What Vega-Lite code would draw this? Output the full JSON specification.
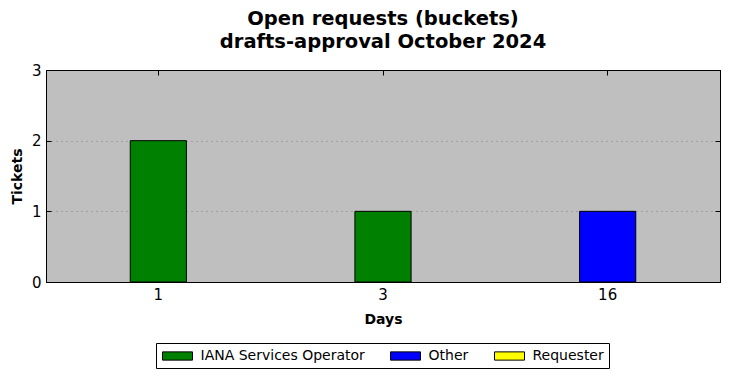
{
  "$schema": "https://vega.github.io/schema/vega-lite/v6.json",
  "autosize": "none",
  "width": 674,
  "height": 212,
  "padding": {"left": 46, "top": 70, "right": 10, "bottom": 96},
  "background": "white",
  "title": {
    "text": ["Open requests (buckets)", "drafts-approval October 2024"],
    "font": "DejaVu Sans",
    "fontSize": 19.5,
    "fontWeight": "bold",
    "color": "black",
    "anchor": "middle",
    "frame": "group",
    "offset": 11,
    "lineHeight": 22.5
  },
  "config": {
    "view": {"fill": "#bfbfbf", "stroke": "black", "strokeWidth": 1},
    "axis": {
      "labelFont": "DejaVu Sans",
      "labelFontSize": 15,
      "labelColor": "black",
      "titleFont": "DejaVu Sans",
      "titleFontSize": 14,
      "titleFontWeight": "bold",
      "titleColor": "black",
      "domainColor": "black",
      "tickColor": "black",
      "tickSize": -5,
      "labelPadding": 10
    },
    "legend": {
      "labelFont": "DejaVu Sans",
      "labelFontSize": 14,
      "labelColor": "black",
      "labelLimit": 0
    }
  },
  "data": {
    "values": [
      {"days": "1", "owner": "IANA Services Operator", "tickets": 2},
      {"days": "3", "owner": "IANA Services Operator", "tickets": 1},
      {"days": "16", "owner": "Other", "tickets": 1}
    ]
  },
  "layer": [
    {
      "mark": {"type": "bar", "stroke": "black", "strokeWidth": 1, "width": {"band": 0.25}},
      "encoding": {
        "x": {
          "field": "days",
          "type": "nominal",
          "sort": ["1", "3", "16"],
          "scale": {"domain": ["1", "3", "16"], "paddingInner": 0, "paddingOuter": 0},
          "axis": {"title": "Days", "orient": "bottom", "labelAngle": 0, "titlePadding": 10}
        },
        "y": {
          "field": "tickets",
          "type": "quantitative",
          "scale": {"domain": [0, 3], "nice": false},
          "axis": {
            "title": "Tickets",
            "orient": "left",
            "values": [0, 1, 2, 3],
            "grid": true,
            "gridColor": "#808080",
            "gridDash": [1, 4],
            "gridWidth": 1,
            "labelPadding": 10,
            "titlePadding": 7
          }
        },
        "color": {
          "field": "owner",
          "type": "nominal",
          "scale": {
            "domain": ["IANA Services Operator", "Other", "Requester"],
            "range": ["#008000", "#0000ff", "#ffff00"]
          },
          "legend": {
            "title": null,
            "orient": "none",
            "direction": "horizontal",
            "columns": 3,
            "legendX": 110,
            "legendY": 273,
            "strokeColor": "black",
            "fillColor": "white",
            "padding": 5,
            "columnPadding": 23,
            "labelOffset": 15,
            "symbolOffset": 8.5,
            "symbolType": "M-2,-0.55H2V0.55H-2Z",
            "symbolSize": 225,
            "symbolStrokeColor": "black",
            "symbolStrokeWidth": 1,
            "symbolOpacity": 1
          }
        }
      }
    },
    {
      "mark": {"type": "bar", "opacity": 0, "width": {"band": 0.25}},
      "encoding": {
        "x": {
          "field": "days",
          "type": "nominal",
          "sort": ["1", "3", "16"],
          "scale": {"domain": ["1", "3", "16"], "paddingInner": 0, "paddingOuter": 0},
          "axis": {"title": null, "orient": "top", "labels": false}
        },
        "y": {
          "field": "tickets",
          "type": "quantitative",
          "scale": {"domain": [0, 3], "nice": false},
          "axis": {"title": null, "orient": "right", "labels": false, "values": [0, 1, 2, 3], "grid": false}
        }
      }
    }
  ],
  "resolve": {"axis": {"x": "independent", "y": "independent"}}
}
